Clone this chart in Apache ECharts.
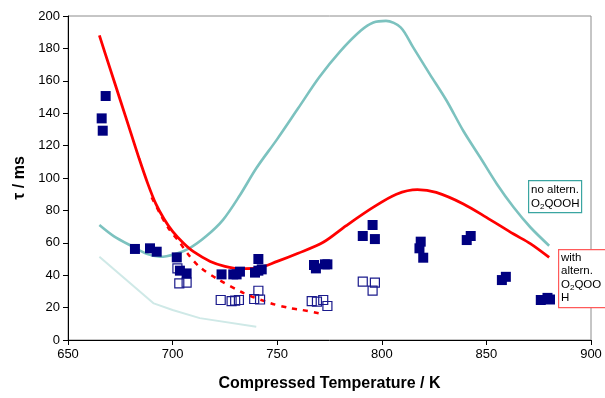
<!DOCTYPE html>
<html><head><meta charset="utf-8">
<script src="https://cdn.jsdelivr.net/npm/echarts@6/dist/echarts.min.js"></script>
<style>html,body{margin:0;padding:0;background:#fff}#c{width:605px;height:398px}</style>
</head><body><div id="c"></div>
<script>
// Axis ticks
const xTicks = [650, 700, 750, 800, 850, 900];
const yTicks = [0, 20, 40, 60, 80, 100, 120, 140, 160, 180, 200];

// Model curve: with alternative O2QOOH (red solid)
const redT   = [665, 670, 675, 680, 684, 688, 692, 696, 700, 705, 710, 718, 725, 732, 740, 750, 760, 772, 783, 796, 807, 817, 826, 839, 850, 863, 871, 880];
const redTau = [188, 168, 148, 128, 112, 97, 84, 74.5, 67, 60, 54.5, 48.5, 45.5, 44, 44.3, 48.5, 53.5, 60.3, 70.6, 82, 90, 92.8, 91.1, 84, 75.7, 65.4, 59.5, 51];

// Red dotted curve
const dotT   = [690, 694, 698, 703.5, 708, 713, 721, 734, 746.6, 756, 762, 770];
const dotTau = [88, 78, 69, 60, 52, 45, 38, 29, 22.8, 19.7, 18.5, 16.5];

// Model curve: no alternative O2QOOH (teal)
const tealT   = [665, 672, 681, 688, 694, 701, 708, 716, 724, 732, 740, 750, 760, 770, 780, 790, 796, 802, 809, 815, 823, 831, 839, 847, 855, 863, 871, 880];
const tealTau = [71, 64, 57.6, 53, 51.4, 53, 56.6, 64, 74, 89, 106, 124, 143, 162, 178, 191, 196, 197, 193, 180.6, 164, 147.7, 129, 112.8, 96.3, 81.9, 69.6, 58.2];

// Pale teal line
const paleT   = [665, 691, 700, 713, 740];
const paleTau = [51.4, 22.6, 18.5, 13.5, 8.2];

// Measured (filled squares)
const filledT   = [666.1, 666.6, 668, 682, 689.2, 692.4, 702, 703.5, 706.7, 723.4, 729, 730.6, 732.2, 739.4, 741, 741, 742.6, 767.6, 768.5, 772.8, 774, 790.9, 795.6, 796.7, 818, 818.6, 819.8, 840.6, 842.5, 857.4, 859.3, 876, 879.2, 880.4];
const filledTau = [136.8, 129.2, 150.6, 56.2, 56.6, 54.5, 51, 42.8, 41.1, 40.5, 40.5, 40.5, 42.2, 41.6, 42.8, 50, 43.6, 46.3, 44.2, 46.7, 46.7, 64.2, 71, 62.3, 56.6, 60.7, 50.8, 61.7, 64.2, 37, 39, 24.7, 26, 25];

// Measured (open squares)
const openT   = [702.3, 703.2, 706.7, 723, 728.2, 729.9, 731.7, 739, 741, 741.8, 766.5, 769, 772, 774, 790.9, 796.7, 795.6];
const openTau = [44.2, 35, 35.4, 24.7, 24, 24.3, 24.7, 25.3, 30.4, 25, 24, 23.7, 24.7, 21, 36, 35.4, 30.5];

const zip = (a, b) => a.map((v, i) => [v, b[i]]);
const F = '"Liberation Sans", Arial, sans-serif';

const chart = echarts.init(document.getElementById('c'));
chart.setOption({
  animation: false,
  grid: { left: 68, right: 14, top: 16, bottom: 58, show: true, borderColor: '#8c8c8c', borderWidth: 1, backgroundColor: '#fff' },
  xAxis: {
    type: 'value', min: xTicks[0], max: xTicks[xTicks.length - 1], interval: 50,
    name: 'Compressed Temperature / K', nameLocation: 'middle', nameGap: 36,
    nameTextStyle: { fontFamily: F, fontSize: 16, fontWeight: 'bold', color: '#000' },
    axisLine: { lineStyle: { color: '#000', width: 1 } },
    axisTick: { length: 5, lineStyle: { color: '#000' } },
    axisLabel: { fontFamily: F, fontSize: 13, color: '#000', margin: 8 },
    splitLine: { show: false }
  },
  yAxis: {
    type: 'value', min: yTicks[0], max: yTicks[yTicks.length - 1], interval: 20,
    name: 'τ / ms', nameLocation: 'middle', nameGap: 37, nameRotate: 90,
    nameTextStyle: { fontFamily: F, fontSize: 16, fontWeight: 'bold', color: '#000' },
    axisLine: { show: true, lineStyle: { color: '#000', width: 1 } },
    axisTick: { show: true, length: 5, lineStyle: { color: '#000' } },
    axisLabel: { fontFamily: F, fontSize: 13, color: '#000', margin: 8 },
    splitLine: { show: false }
  },
  series: [
    { type: 'line', data: zip(paleT, paleTau), symbol: 'none', lineStyle: { color: '#cfe9e7', width: 2 }, z: 1 },
    { type: 'line', data: zip(tealT, tealTau), symbol: 'none', smooth: 0.3, lineStyle: { color: '#7cc2bf', width: 2.6 }, z: 2 },
    { type: 'line', data: zip(dotT, dotTau), symbol: 'none', smooth: 0.3, lineStyle: { color: '#ff0000', width: 2.5, type: [5, 6] }, z: 3 },
    { type: 'line', data: zip(redT, redTau), symbol: 'none', smooth: 0.3, lineStyle: { color: '#ff0000', width: 2.8 }, z: 4 },
    { type: 'scatter', data: zip(openT, openTau), symbol: 'rect', symbolSize: 9,
      itemStyle: { color: 'rgba(255,255,255,0)', borderColor: '#1a1a8c', borderWidth: 1.2, opacity: 1 }, z: 5 },
    { type: 'scatter', data: zip(filledT, filledTau), symbol: 'rect', symbolSize: 10,
      itemStyle: { color: '#000080', opacity: 1 }, z: 6 }
  ],
  graphic: [
    { type: 'rect', left: 528, top: 180, shape: { width: 53, height: 32 },
      style: { fill: '#fff', stroke: '#3aa5a1', lineWidth: 1.2 }, z: 10 },
    { type: 'text', left: 531, top: 183, z: 11,
      style: { text: 'no altern.\nO{s|2}QOOH', fontFamily: F, fontSize: 11.5, lineHeight: 14, fill: '#000',
        rich: { s: { fontSize: 8, fontFamily: F, verticalAlign: 'bottom', lineHeight: 12 } } } },
    { type: 'rect', left: 558, top: 249, shape: { width: 60, height: 58 },
      style: { fill: '#fff', stroke: '#ff5a5a', lineWidth: 1.2 }, z: 10 },
    { type: 'text', left: 561, top: 251, z: 11,
      style: { text: 'with\naltern.\nO{s|2}QOO\nH', fontFamily: F, fontSize: 11.5, lineHeight: 13.5, fill: '#000',
        rich: { s: { fontSize: 8, fontFamily: F, verticalAlign: 'bottom', lineHeight: 12 } } } }
  ]
});
</script>
</body></html>
